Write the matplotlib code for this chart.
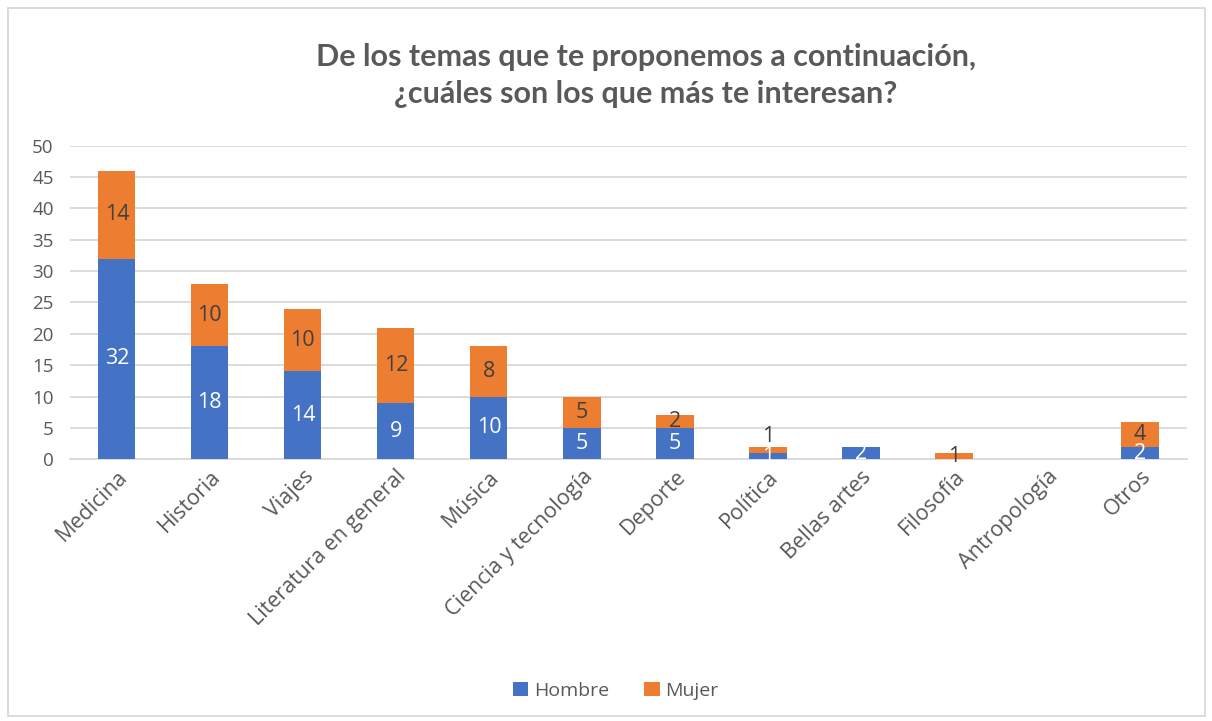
import matplotlib.pyplot as plt
import matplotlib.patches as mpatches
import numpy as np

plt.rcParams['font.family'] = ['Open Sans', 'DejaVu Sans']

BLUE = "#4472C4"
ORANGE = "#ED7D31"
GREY_TXT = "#595959"
GRID = "#D9D9D9"

categorias = ['Medicina', 'Historia', 'Viajes', 'Literatura en general', 'Música',
              'Ciencia y tecnología', 'Deporte', 'Política', 'Bellas artes',
              'Filosofía', 'Antropología', 'Otros']
hombre = [32, 18, 14, 9, 10, 5, 5, 1, 2, 0, 0, 2]
mujer = [14, 10, 10, 12, 8, 5, 2, 1, 0, 1, 0, 4]

fig = plt.figure(figsize=(12.12, 7.21), dpi=100)
ax = fig.add_axes([0.058, 0.363, 0.921, 0.435])

x = np.arange(len(categorias))
ax.bar(x, hombre, width=0.4, color=BLUE, label='Hombre', zorder=3)
ax.bar(x, mujer, width=0.4, bottom=hombre, color=ORANGE, label='Mujer', zorder=3)

for i, (h, m) in enumerate(zip(hombre, mujer)):
    if h > 0:
        ax.text(i, h / 2, str(h), ha='center', va='center', fontsize=15.5,
                color='white', zorder=4)
    if m > 0:
        y = h + m / 2
        if h > 0 and h + m < 3:
            y = h + m + 1.7
        ax.text(i, y, str(m), ha='center', va='center', fontsize=15.5,
                color='#404040', zorder=4)

ax.set_ylim(0, 50)
ax.set_yticks(range(0, 51, 5))
ax.set_xlim(-0.5, len(categorias) - 0.5)
ax.set_xticks(x)
ax.set_xticklabels(categorias, rotation=45, ha='right', rotation_mode='anchor')
ax.tick_params(axis='both', length=0, colors=GREY_TXT)
ax.tick_params(axis='x', pad=5, labelsize=15.5)
ax.tick_params(axis='y', pad=12, labelsize=13.5)
ax.yaxis.grid(True, color=GRID, linewidth=1.3, zorder=0)
for s in ['top', 'right', 'left']:
    ax.spines[s].set_visible(False)
ax.spines['bottom'].set_color(GRID)
ax.spines['bottom'].set_linewidth(1.3)

fig.text(0.533, 0.895, 'De los temas que te proponemos a continuación,\n¿cuáles son los que más te interesan?',
         ha='center', va='center', fontsize=22, fontweight='bold', color=GREY_TXT,
         family=['Lato', 'DejaVu Sans'], linespacing=1.4)

fig.legend(loc='center', bbox_to_anchor=(0.508, 0.042), ncol=2, frameon=False,
           fontsize=14, handlelength=0.8, handleheight=0.8, handletextpad=0.3,
           columnspacing=1.8, labelcolor=GREY_TXT)

fig.patches.append(mpatches.Rectangle((0.007, 0.007), 0.987, 0.982, transform=fig.transFigure,
                                      fill=False, edgecolor=GRID, linewidth=1.3))

fig.savefig('out.png', dpi=100, facecolor='white')
